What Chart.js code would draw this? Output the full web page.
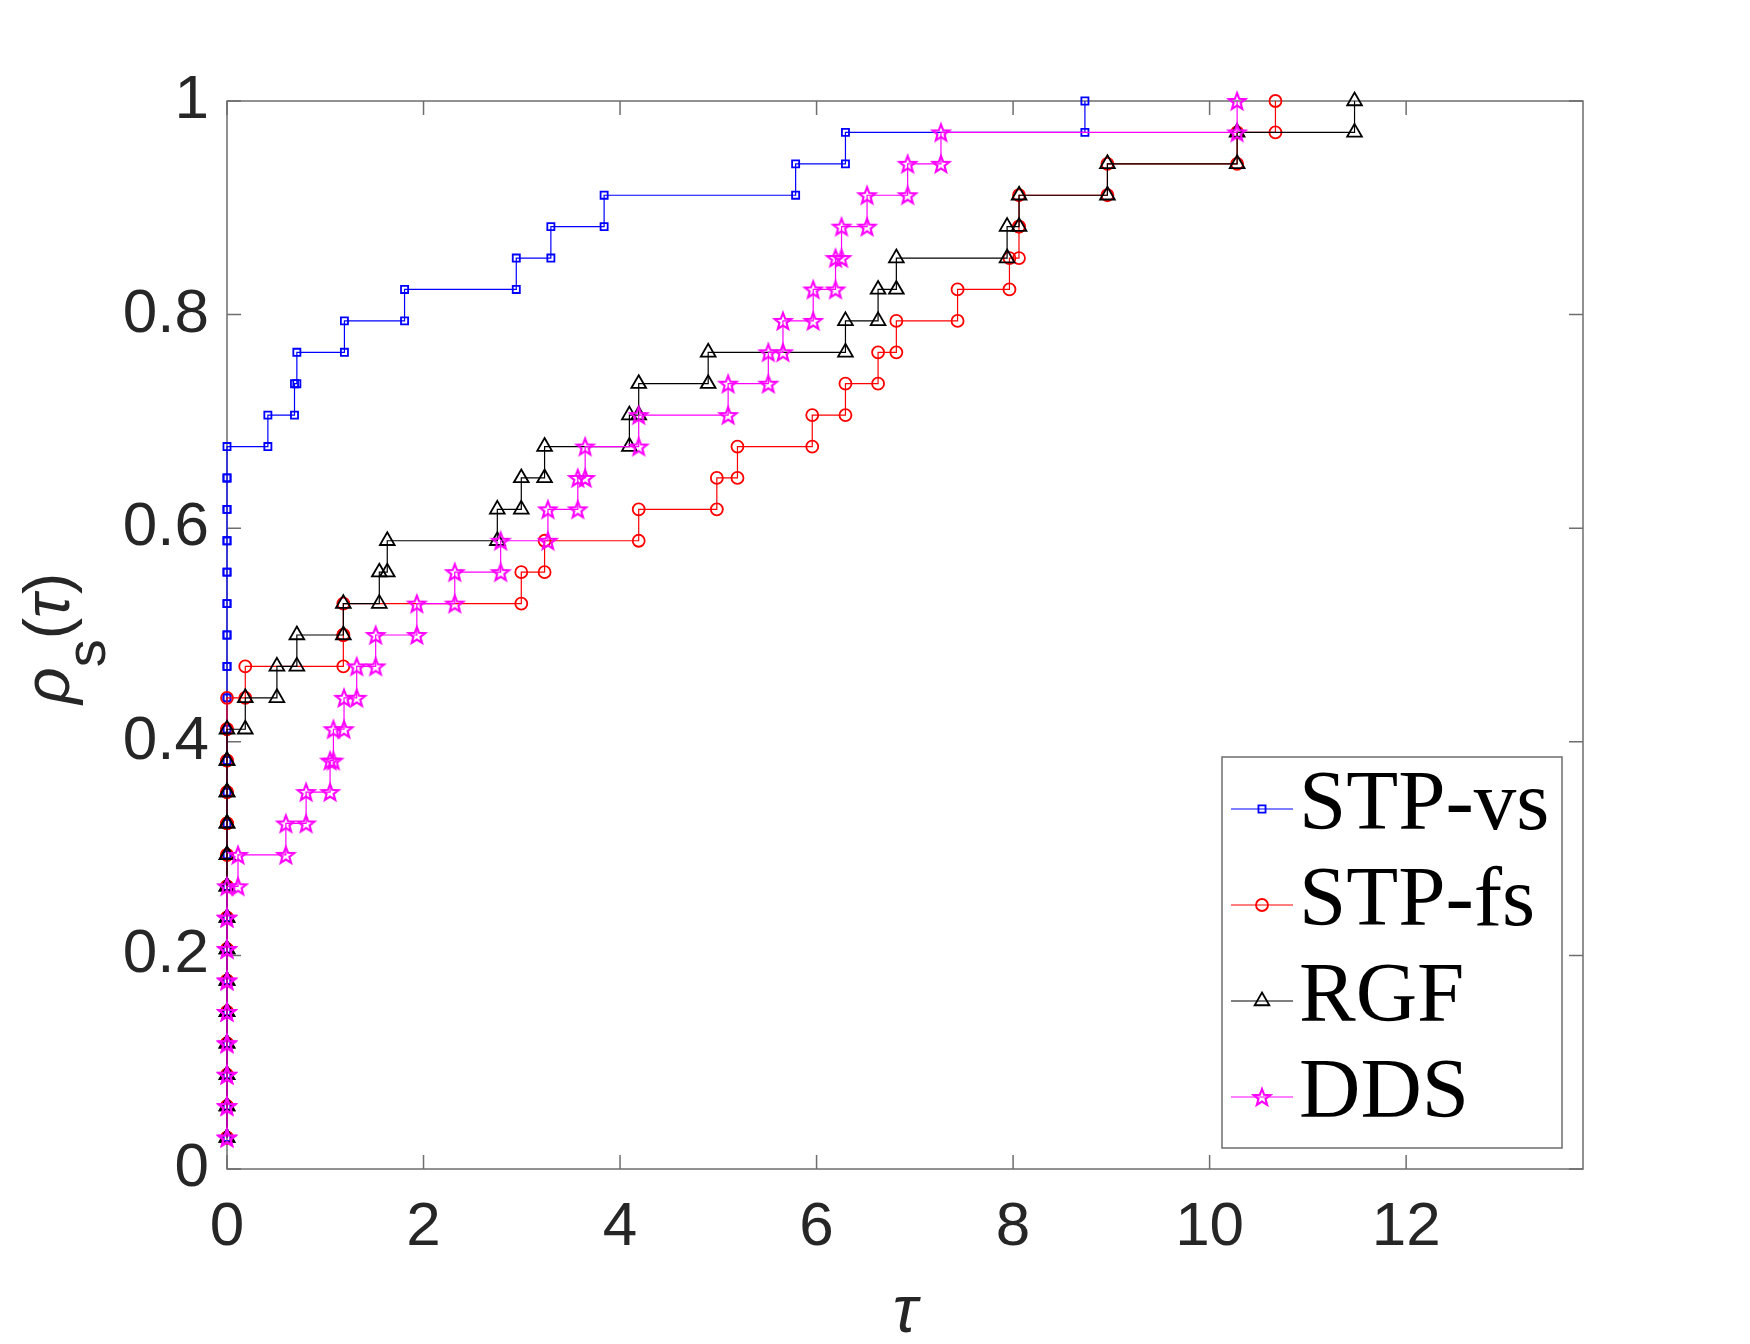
<!DOCTYPE html>
<html>
<head>
<meta charset="utf-8">
<title>Performance profile</title>
<script src="https://cdn.jsdelivr.net/npm/chart.js"></script>
<style>
    html, body { margin: 0; padding: 0; background: #fff; }
    #wrap { width: 1750px; height: 1344px; }
</style>
</head>
<body>
<div id="wrap"><canvas id="profileChart" width="1750" height="1344"></canvas></div>
<script>
// Profile data: tau (log2 ratio) of each of the 34 problems, sorted, per solver
const nProblems = 34;
const seriesNames = ['STP-vs', 'STP-fs', 'RGF', 'DDS'];

const tauSTPvs = [0, 0, 0, 0, 0, 0, 0, 0, 0, 0, 0, 0, 0, 0, 0, 0, 0, 0, 0, 0, 0, 0, 0,
    0.416, 0.687, 0.711, 1.195, 1.807, 2.944, 3.296, 3.838, 5.787, 6.294, 8.731];
const tauSTPfs = [0, 0, 0, 0, 0, 0, 0, 0, 0, 0, 0, 0, 0, 0, 0,
    0.186, 1.184, 1.184, 2.995, 3.232, 4.19, 4.985, 5.195, 5.956, 6.294, 6.626,
    6.812, 7.435, 7.963, 8.06, 8.06, 8.96, 10.28, 10.67];
const tauRGF = [0, 0, 0, 0, 0, 0, 0, 0, 0, 0, 0, 0, 0, 0,
    0.186, 0.508, 0.711, 1.184, 1.55, 1.631, 2.751, 2.995, 3.232, 4.095, 4.19,
    4.897, 6.294, 6.626, 6.812, 7.939, 8.061, 8.96, 10.28, 11.475];
const tauDDS = [0, 0, 0, 0, 0, 0, 0, 0, 0,
    0.112, 0.599, 0.805, 1.049, 1.083, 1.191, 1.32, 1.513, 1.932, 2.318, 2.785,
    3.266, 3.57, 3.645, 4.19, 5.1, 5.509, 5.658, 5.966, 6.193, 6.254, 6.514,
    6.927, 7.266, 10.28];

const xMax = 13.8;
const xTicks = [0, 2, 4, 6, 8, 10, 12];
const xTickLabels = ['0', '2', '4', '6', '8', '10', '12'];
const yTicks = [0, 0.2, 0.4, 0.6, 0.8, 1];
const yTickLabels = ['0', '0.2', '0.4', '0.6', '0.8', '1'];

// Styling
const axisColor = '#6e6e6e';
const textColor = '#262626';
const tickFont = { family: '"Liberation Sans", Arial, sans-serif', size: 62 };

// pentagram marker (Chart.js has no outlined star like MATLAB's 'p')
const makeStar = (color) => {
    const c = document.createElement('canvas');
    c.width = 26;
    c.height = 26;
    const g = c.getContext('2d');
    g.strokeStyle = color;
    g.lineWidth = 2.1;
    g.beginPath();
    for (let k = 0; k < 10; k++) {
        const r = k % 2 ? 3.7 : 8.8;
        const a = -Math.PI / 2 + k * Math.PI / 5;
        const px = 13 + r * Math.cos(a);
        const py = 13.8 + r * Math.sin(a);
        if (k === 0) g.moveTo(px, py); else g.lineTo(px, py);
    }
    g.closePath();
    g.stroke();
    return c;
};
const starMarker = makeStar('#ff00ff');

const seriesStyles = [
    { color: '#0000ff', pointStyle: 'rect', radius: 5, order: 4 },
    { color: '#ff0000', pointStyle: 'circle', radius: 6, order: 3 },
    { color: '#000000', pointStyle: 'triangle', radius: 8.5, order: 2 },
    { color: '#ff00ff', pointStyle: starMarker, radius: 8, order: 1 }
];

// stairs(): corners of the step curve, marker on every corner
const toStairs = (taus) => {
    const pts = [];
    taus.forEach((t, i) => {
        if (i > 0) pts.push({ x: t, y: i / nProblems });
        pts.push({ x: t, y: (i + 1) / nProblems });
    });
    return pts;
};

const datasets = [tauSTPvs, tauSTPfs, tauRGF, tauDDS].map((taus, i) => {
    const s = seriesStyles[i];
    return {
        label: seriesNames[i],
        data: toStairs(taus),
        borderColor: s.color,
        borderWidth: 1.2,
        pointStyle: s.pointStyle,
        pointRadius: s.radius,
        pointHoverRadius: s.radius,
        pointBorderWidth: 1.8,
        pointBorderColor: s.color,
        pointBackgroundColor: 'rgba(0,0,0,0)',
        fill: false,
        tension: 0,
        clip: false,
        order: s.order
    };
});

const drawLegendMarker = (ctx, s, x, y) => {
    ctx.save();
    ctx.strokeStyle = s.color;
    ctx.lineWidth = 1.8;
    ctx.beginPath();
    if (s.pointStyle === 'rect') {
        const h = s.radius * Math.SQRT1_2;
        ctx.rect(x - h, y - h, 2 * h, 2 * h);
        ctx.stroke();
    } else if (s.pointStyle === 'circle') {
        ctx.arc(x, y, s.radius, 0, Math.PI * 2);
        ctx.stroke();
    } else if (s.pointStyle === 'triangle') {
        const r = s.radius;
        ctx.moveTo(x, y - r);
        ctx.lineTo(x + 0.866 * r, y + 0.5 * r);
        ctx.lineTo(x - 0.866 * r, y + 0.5 * r);
        ctx.closePath();
        ctx.stroke();
    } else {
        const img = s.pointStyle;
        ctx.drawImage(img, x - img.width / 2, y - img.height / 2);
    }
    ctx.restore();
};

// MATLAB-like box, inner ticks, axis titles and legend
const matlabAxes = {
    id: 'matlabAxes',
    beforeDatasetsDraw(chart) {
        const { ctx, chartArea: a, scales: { x, y } } = chart;
        const tickLen = 14;
        ctx.save();
        ctx.strokeStyle = axisColor;
        ctx.lineWidth = 1.5;
        ctx.strokeRect(a.left, a.top, a.right - a.left, a.bottom - a.top);
        ctx.beginPath();
        xTicks.forEach(v => {
            const px = x.getPixelForValue(v);
            ctx.moveTo(px, a.bottom);
            ctx.lineTo(px, a.bottom - tickLen);
            ctx.moveTo(px, a.top);
            ctx.lineTo(px, a.top + tickLen);
        });
        yTicks.forEach(v => {
            const py = y.getPixelForValue(v);
            ctx.moveTo(a.left, py);
            ctx.lineTo(a.left + tickLen, py);
            ctx.moveTo(a.right, py);
            ctx.lineTo(a.right - tickLen, py);
        });
        ctx.stroke();
        ctx.restore();
    },
    afterDraw(chart) {
        const { ctx, chartArea: a } = chart;
        const sans = '"Liberation Sans", Arial, sans-serif';

        // x title
        ctx.save();
        ctx.fillStyle = textColor;
        ctx.textAlign = 'center';
        ctx.textBaseline = 'alphabetic';
        ctx.font = 'italic 66px ' + sans;
        ctx.fillText('τ', (a.left + a.right) / 2, 1332);
        ctx.restore();

        // y title: rho_s(tau), rotated
        ctx.save();
        ctx.translate(69, 704);
        ctx.rotate(-Math.PI / 2);
        ctx.fillStyle = textColor;
        ctx.textBaseline = 'alphabetic';
        ctx.textAlign = 'left';
        let cx = 0;
        const part = (txt, font, dy) => {
            ctx.font = font;
            ctx.fillText(txt, cx, dy);
            cx += ctx.measureText(txt).width;
        };
        part('ρ', 'italic 64px ' + sans, 0);
        part('s', '56px ' + sans, 36);
        part('(', '64px ' + sans, 0);
        part('τ', 'italic 64px ' + sans, 0);
        part(')', '64px ' + sans, 0);
        ctx.restore();

        // legend
        const box = { left: 1222, top: 757, right: 1562, bottom: 1148 };
        ctx.save();
        ctx.fillStyle = '#ffffff';
        ctx.fillRect(box.left, box.top, box.right - box.left, box.bottom - box.top);
        ctx.strokeStyle = axisColor;
        ctx.lineWidth = 1.5;
        ctx.strokeRect(box.left, box.top, box.right - box.left, box.bottom - box.top);
        seriesNames.forEach((name, i) => {
            const s = seriesStyles[i];
            const rowY = 809 + i * 96;
            ctx.strokeStyle = s.color;
            ctx.lineWidth = 1.2;
            ctx.beginPath();
            ctx.moveTo(1231, rowY);
            ctx.lineTo(1293, rowY);
            ctx.stroke();
            drawLegendMarker(ctx, s, 1262, rowY);
            ctx.fillStyle = '#000000';
            ctx.font = '85px "Liberation Serif", "Times New Roman", serif';
            ctx.textAlign = 'left';
            ctx.textBaseline = 'alphabetic';
            ctx.fillText(name, 1299, rowY + 20);
        });
        ctx.restore();
    }
};

const ctx = document.getElementById('profileChart').getContext('2d');
new Chart(ctx, {
    type: 'line',
    data: { datasets },
    options: {
        responsive: false,
        animation: false,
        devicePixelRatio: 1,
        events: [],
        layout: { padding: { left: 0, top: 101, right: 167, bottom: 0 } },
        plugins: {
            legend: { display: false },
            tooltip: { enabled: false }
        },
        scales: {
            x: {
                type: 'linear',
                min: 0,
                max: xMax,
                grid: { display: false, drawTicks: false },
                border: { display: false },
                afterBuildTicks: (axis) => { axis.ticks = xTicks.map(v => ({ value: v })); },
                afterFit: (axis) => { axis.height = 175; },
                ticks: {
                    autoSkip: false,
                    maxRotation: 0,
                    padding: 22,
                    color: textColor,
                    font: tickFont,
                    callback: (v) => xTickLabels[xTicks.indexOf(v)]
                }
            },
            y: {
                type: 'linear',
                min: 0,
                max: 1,
                grid: { display: false, drawTicks: false },
                border: { display: false },
                afterBuildTicks: (axis) => { axis.ticks = yTicks.map(v => ({ value: v })); },
                afterFit: (axis) => { axis.width = 227; },
                ticks: {
                    autoSkip: false,
                    padding: 18,
                    color: textColor,
                    font: tickFont,
                    callback: (v) => yTickLabels[yTicks.indexOf(v)]
                }
            }
        }
    },
    plugins: [matlabAxes]
});
</script>
</body>
</html>
